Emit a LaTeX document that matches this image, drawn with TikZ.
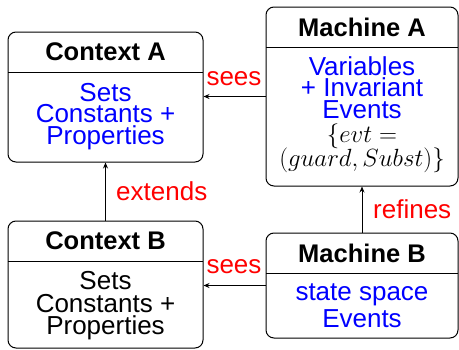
\documentclass[tikz,border=0pt]{standalone}
\usepackage{fontspec}
\setmainfont{Liberation Sans}
\usetikzlibrary{arrows.meta}
\definecolor{kwblue}{RGB}{0,0,255}
\definecolor{relred}{RGB}{255,0,0}
% fixed line pitch, whatever the height of each line
\newcommand\tightlines{\lineskiplimit=-100pt\relax\lineskip=0pt\relax}
\tikzset{
  compbox/.style={draw=black, line width=1pt, rounded corners=8pt, inner sep=0pt},
  divider/.style={draw=black, line width=1pt},
  titletxt/.style={anchor=base, inner sep=0pt, font=\fontsize{25.5}{25.5}\selectfont\bfseries},
  % multi-line body text; its base anchor sits on the last line
  bodytxt/.style={anchor=base, inner sep=0pt, align=center,
    font=\fontsize{26}{21.5}\selectfont\tightlines},
  reltxt/.style={anchor=base, inner sep=0pt, text=relred, font=\fontsize{26}{26}\selectfont},
  rel/.style={draw=black, line width=0.9pt, -{Stealth[length=6pt,width=5pt]}},
}
\begin{document}
\begin{tikzpicture}[x=1pt,y=-1pt]
\useasboundingbox (0,0) rectangle (459,349);

% Context A
\node[compbox, minimum width=195pt, minimum height=130pt] (ctxA) at (105.5,97) {};
\draw[divider] (8,72) coordinate (ctxAdl) -- (203,72) coordinate (ctxAdr);
\node[titletxt] (ctxAt) at (105.5,60) {Context A};
\node[bodytxt, text=kwblue] (ctxAb) at (105.5,144) {Sets\\Constants +\\Properties};

% Machine A
\node[compbox, minimum width=192pt, minimum height=179pt] (mA) at (362,96.5) {};
\draw[divider] (266,47) coordinate (mAdl) -- (458,47) coordinate (mAdr);
\node[titletxt] (mAt) at (362,36) {Machine A};
\node[bodytxt] (mAb) at (362,166) {\textcolor{kwblue}{Variables}\\
  \textcolor{kwblue}{+ Invariant}\\
  \textcolor{kwblue}{Events}\\[2.5pt]
  {\fontsize{24}{24}\selectfont$\{evt=$}\\[2.5pt]
  {\fontsize{24}{24}\selectfont$(guard, Subst)\}$}};

% Context B
\node[compbox, minimum width=195pt, minimum height=127pt] (ctxB) at (105.5,284.5) {};
\draw[divider] (8,261) coordinate (ctxBdl) -- (203,261) coordinate (ctxBdr);
\node[titletxt] (ctxBt) at (105.5,249) {Context B};
\node[bodytxt] (ctxBb) at (105.5,334) {Sets\\[1.5pt]Constants +\\Properties};

% Machine B
\node[compbox, minimum width=192pt, minimum height=105pt] (mB) at (362,285.5) {};
\draw[divider] (266,273) coordinate (mBdl) -- (458,273) coordinate (mBdr);
\node[titletxt] (mBt) at (362,262) {Machine B};
\node[bodytxt, text=kwblue] (mBb) at (362,327) {state space\\[5pt]Events};

% Relations
\draw[rel] (mA.west) -- (ctxA.east |- mA.west);
\node[reltxt] (seesA) at (234,85) {sees};
\draw[rel] (mB.west) -- (ctxB.east |- mB.west);
\node[reltxt] (seesB) at (234,273) {sees};
\draw[rel] (ctxB.north) -- (ctxA.south);
\node[reltxt, anchor=base west] (ext) at (116,200) {extends};
\draw[rel] (mB.north) -- (mA.south);
\node[reltxt, anchor=base west] (ref) at (373,218) {refines};
\end{tikzpicture}
\end{document}
